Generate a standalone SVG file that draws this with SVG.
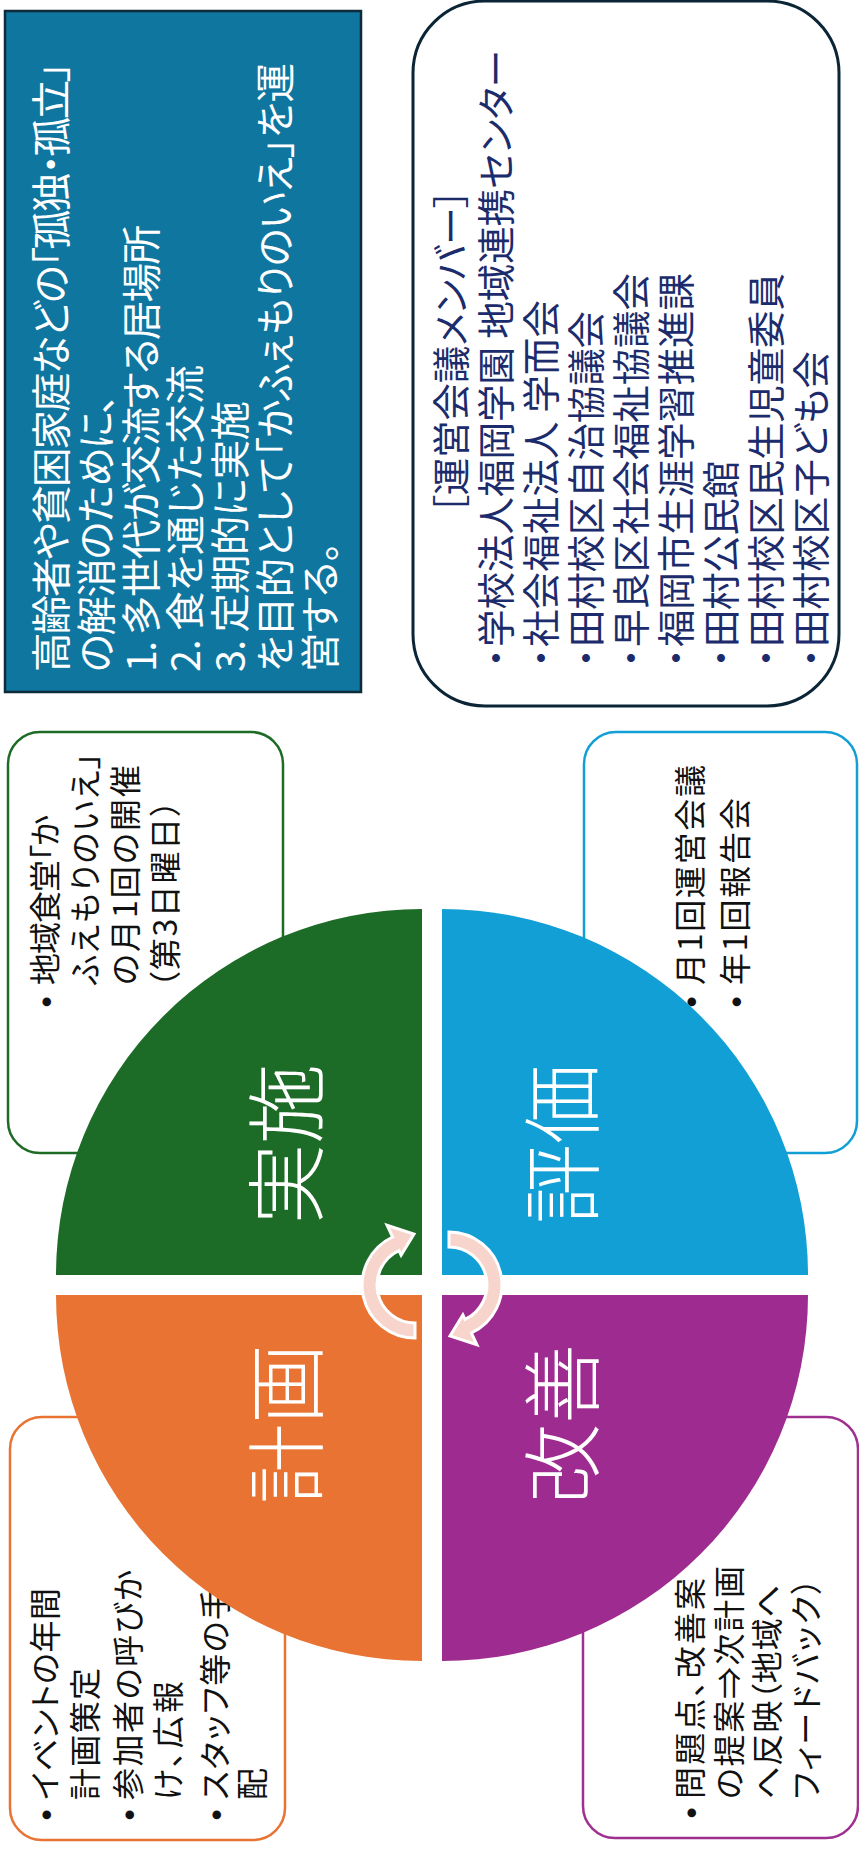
<svg xmlns="http://www.w3.org/2000/svg" width="859" height="1854" viewBox="0 0 859 1854">
<style>
.jp{font-family:"Noto Sans CJK JP","Noto Sans CJK SC",sans-serif;font-feature-settings:"palt";}
.aim{fill:#ffffff;font-size:39.5px}
.mem{fill:#1B2B6B;font-size:37.5px}
.cl{fill:#111111;font-size:32px}
.lab{fill:#ffffff;font-size:80px;text-anchor:middle;font-weight:300}
.bul{font-family:"Liberation Sans",Arial,sans-serif;font-size:32px;fill:#111111;text-anchor:middle}
.box{fill:#ffffff;stroke-width:2.5}
.arrow{fill:#F8D5CC;stroke:#ffffff;stroke-width:3}
</style>
<defs>
<path id="cyc" d="M415,1338 A53,53 0 0 1 392.6,1237 L387.1,1225.2 L414,1234 L401.1,1255.1 L398.9,1250.6 A38,38 0 0 0 415,1323 Z"/>
</defs>
<rect width="859" height="1854" fill="#ffffff"/>
<g transform="translate(0,1854) rotate(-90)">
  <g id="aim">
    <rect x="1162" y="5" width="681" height="356" fill="#0F76A0" stroke="#0D2B3A" stroke-width="2.5"/>
    <text class="jp aim" x="1182" y="66" textLength="610" lengthAdjust="spacing">高齢者や貧困家庭などの「孤独・孤立」</text>
    <text class="jp aim" x="1182" y="111" textLength="278" lengthAdjust="spacing">の解消のために、</text>
    <text class="jp aim" x="1182" y="156" textLength="447" lengthAdjust="spacing">1. 多世代が交流する居場所</text>
    <text class="jp aim" x="1182" y="200" textLength="307" lengthAdjust="spacing">2. 食を通じた交流</text>
    <text class="jp aim" x="1182" y="245" textLength="271" lengthAdjust="spacing">3. 定期的に実施</text>
    <text class="jp aim" x="1182" y="290" textLength="609" lengthAdjust="spacing">を目的として「かふぇもりのいえ」を運</text>
    <text class="jp aim" x="1182" y="335" textLength="130" lengthAdjust="spacing">営する。</text>
  </g>
  <g id="members">
    <rect x="1148" y="413" width="705" height="426" rx="72" fill="#ffffff" stroke="#0B2536" stroke-width="3"/>
    <text class="jp mem" x="1340" y="465" textLength="325" lengthAdjust="spacing">［運営会議メンバー］</text>
    <g class="jp mem" text-anchor="middle">
      <text x="1196" y="510">・</text>
      <text x="1196" y="555">・</text>
      <text x="1196" y="600">・</text>
      <text x="1196" y="645">・</text>
      <text x="1196" y="690">・</text>
      <text x="1196" y="735">・</text>
      <text x="1196" y="780">・</text>
      <text x="1196" y="825">・</text>
    </g>
    <text class="jp mem" x="1207" y="510" textLength="597" lengthAdjust="spacing">学校法人福岡学園 地域連携センター</text>
    <text class="jp mem" x="1207" y="555" textLength="347" lengthAdjust="spacing">社会福祉法人 学而会</text>
    <text class="jp mem" x="1207" y="600" textLength="336" lengthAdjust="spacing">田村校区自治協議会</text>
    <text class="jp mem" x="1207" y="645" textLength="374" lengthAdjust="spacing">早良区社会福祉協議会</text>
    <text class="jp mem" x="1207" y="690" textLength="374" lengthAdjust="spacing">福岡市生涯学習推進課</text>
    <text class="jp mem" x="1207" y="735" textLength="186" lengthAdjust="spacing">田村公民館</text>
    <text class="jp mem" x="1207" y="780" textLength="374" lengthAdjust="spacing">田村校区民生児童委員</text>
    <text class="jp mem" x="1207" y="825" textLength="296" lengthAdjust="spacing">田村校区子ども会</text>
  </g>
  <g id="do-note">
    <rect class="box" x="701" y="8" width="421" height="275" rx="32" stroke="#1E6B26"/>
    <text class="bul" x="852" y="57">•</text>
    <text class="jp cl" x="869" y="57" textLength="170" lengthAdjust="spacing">地域食堂「か</text>
    <text class="jp cl" x="869" y="97" textLength="232" lengthAdjust="spacing">ふえもりのいえ」</text>
    <text class="jp cl" x="869" y="137" textLength="220" lengthAdjust="spacing">の月1回の開催</text>
    <text class="jp cl" x="866" y="177" textLength="188" lengthAdjust="spacing">（第3日曜日）</text>
  </g>
  <g id="check-note">
    <rect class="box" x="701" y="584" width="421" height="273" rx="32" stroke="#129FD6"/>
    <text class="bul" x="852" y="702">•</text>
    <text class="bul" x="852" y="747">•</text>
    <text class="jp cl" x="869" y="702" textLength="220" lengthAdjust="spacing">月1回運営会議</text>
    <text class="jp cl" x="869" y="747" textLength="187" lengthAdjust="spacing">年1回報告会</text>
  </g>
  <g id="plan-note">
    <rect class="box" x="14" y="10" width="423" height="275" rx="32" stroke="#E87332"/>
    <text class="bul" x="39" y="57">•</text>
    <text class="bul" x="39" y="140">•</text>
    <text class="bul" x="39" y="227">•</text>
    <text class="jp cl" x="54" y="57" textLength="212" lengthAdjust="spacing">イベントの年間</text>
    <text class="jp cl" x="54" y="97" textLength="132" lengthAdjust="spacing">計画策定</text>
    <text class="jp cl" x="54" y="140" textLength="230" lengthAdjust="spacing">参加者の呼びか</text>
    <text class="jp cl" x="54" y="180" textLength="119" lengthAdjust="spacing">け、広報</text>
    <text class="jp cl" x="54" y="227" textLength="212" lengthAdjust="spacing">スタッフ等の手</text>
    <text class="jp cl" x="54" y="264">配</text>
  </g>
  <g id="act-note">
    <rect class="box" x="16" y="583" width="421" height="275" rx="32" stroke="#A0308F"/>
    <text class="bul" x="41" y="702">•</text>
    <text class="jp cl" x="55" y="702" textLength="221" lengthAdjust="spacing">問題点、改善案</text>
    <text class="jp cl" x="55" y="741" textLength="233" lengthAdjust="spacing">の提案⇒次計画</text>
    <text class="jp cl" x="55" y="779" textLength="214" lengthAdjust="spacing">へ反映（地域へ</text>
    <text class="jp cl" x="55" y="818" textLength="221" lengthAdjust="spacing">フィードバック）</text>
  </g>
  <g id="plan">
    <path d="M559,422 L193,422 A366,366 0 0 1 559,56 Z" fill="#E87332"/>
    <text class="jp lab" x="430" y="316">計画</text>
  </g>
  <g id="do">
    <path d="M579,422 L579,56 A366,366 0 0 1 945,422 Z" fill="#1C6B26"/>
    <text class="jp lab" x="710" y="316">実施</text>
  </g>
  <g id="check">
    <path d="M579,442 L945,442 A366,366 0 0 1 579,808 Z" fill="#129FD6"/>
    <text class="jp lab" x="710" y="592">評価</text>
  </g>
  <g id="act">
    <path d="M559,442 L559,808 A366,366 0 0 1 193,442 Z" fill="#9E2B8F"/>
    <text class="jp lab" x="430" y="592">改善</text>
  </g>
</g>
<g id="connectors">
  <use href="#cyc" class="arrow"/>
  <use href="#cyc" class="arrow" transform="rotate(180 432 1285)"/>
</g>
</svg>
